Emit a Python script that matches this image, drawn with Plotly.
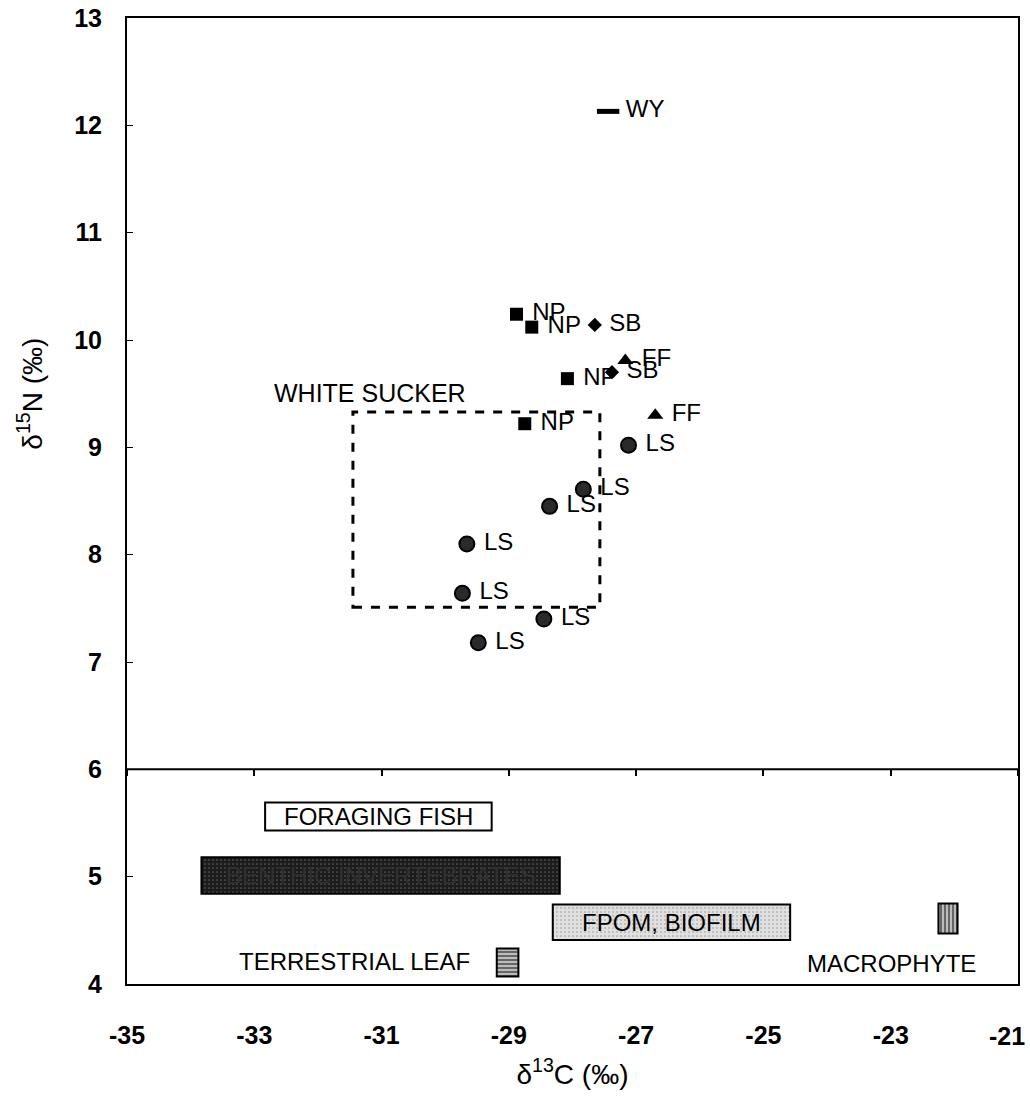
import plotly.graph_objects as go

# ---------------- data ----------------
wy_x = [-27.44]
wy_y = [12.13]
np_x = [-28.88, -28.64, -28.08, -28.75]
np_y = [10.24, 10.12, 9.64, 9.22]
sb_x = [-27.65, -27.38]
sb_y = [10.14, 9.70]
ff_x = [-27.17, -26.70]
ff_y = [9.81, 9.30]
ls_x = [-27.12, -27.83, -28.36, -29.66, -29.73, -28.45, -29.48]
ls_y = [9.02, 8.61, 8.45, 8.10, 7.64, 7.40, 7.18]

# white sucker range (dashed box)
ws_x = [-31.45, -27.57]
ws_y = [7.51, 9.33]
ws_label = "WHITE SUCKER"
ws_label_xy = (-31.18, 9.51)

# food sources (bars): name, x-min, x-max, y-center, y-height
src_names = ["FORAGING FISH", "BENTHIC INVERTEBRATES", "FPOM, BIOFILM",
             "TERRESTRIAL LEAF", "MACROPHYTE"]
src_xmin = [-32.83, -33.83, -28.31, -29.19, -22.25]
src_xmax = [-29.27, -28.20, -24.58, -28.85, -21.95]
src_yc = [5.56, 5.01, 4.575, 4.20, 4.61]
src_h = [0.26, 0.34, 0.33, 0.26, 0.28]
leaf_label_xy = (-31.43, 4.21)
macro_label_xy = (-22.98, 4.19)

x_ticks = [-35, -33, -31, -29, -27, -25, -23, -21]
y_ticks = [4, 5, 6, 7, 8, 9, 10, 11, 12, 13]

FONT = "Arial, Liberation Sans, sans-serif"

fig = go.Figure()

# ---------- food source bars ----------
bar_styles = [
    dict(color="white", pattern=None),
    dict(color="#1c1c1c", pattern=dict(shape=".", fgcolor="#9a9a9a", bgcolor="#1c1c1c", size=4, solidity=0.15)),
    dict(color="#d8d8d8", pattern=dict(shape=".", fgcolor="#8a8a8a", bgcolor="#e0e0e0", size=4, solidity=0.2)),
    dict(color="#444", pattern=dict(shape="-", fgcolor="#111", bgcolor="#bbbbbb", size=4, solidity=0.5)),
    dict(color="#444", pattern=dict(shape="|", fgcolor="#111", bgcolor="#bbbbbb", size=4, solidity=0.5)),
]
for i, name in enumerate(src_names):
    st = bar_styles[i]
    marker = dict(color=st["color"], line=dict(color="black", width=2))
    if st["pattern"] is not None:
        marker["pattern"] = st["pattern"]
    fig.add_trace(go.Bar(
        x=[src_xmax[i] - src_xmin[i]], base=[src_xmin[i]], y=[src_yc[i]],
        width=[src_h[i]], orientation="h", marker=marker,
        showlegend=False, hoverinfo="skip"))

src_font = dict(family=FONT, size=24, color="black")
inside_colors = ["black", "#303030", "black"]
for i in range(3):
    fig.add_annotation(x=(src_xmin[i] + src_xmax[i]) / 2, y=src_yc[i],
                       text=src_names[i], showarrow=False,
                       font=dict(family=FONT, size=24, color=inside_colors[i]))
fig.add_annotation(x=leaf_label_xy[0], y=leaf_label_xy[1], text=src_names[3],
                   showarrow=False, font=src_font)
fig.add_annotation(x=macro_label_xy[0], y=macro_label_xy[1], text=src_names[4],
                   showarrow=False, font=src_font)

# ---------- fish points ----------
lab_font = dict(family=FONT, size=24, color="black")

def pts(xs, ys, lab, symbol, size, color="black", lw=0):
    fig.add_trace(go.Scatter(
        x=xs, y=ys, mode="markers+text", text=[" " + lab] * len(xs),
        textposition="middle right", textfont=lab_font,
        marker=dict(symbol=symbol, size=size, color=color,
                    line=dict(color="black", width=lw)),
        showlegend=False, hoverinfo="skip", cliponaxis=False))

pts(wy_x, wy_y, "WY", "line-ew", 16, lw=5)
pts(np_x, np_y, "NP", "square", 13)
pts(sb_x, sb_y, "SB", "diamond", 11)
pts(ff_x, ff_y, "FF", "triangle-up", 14)
pts(ls_x, ls_y, "LS", "circle", 15, color="#2a2a2a", lw=2)

# ---------- white sucker dashed box ----------
fig.add_shape(type="rect", x0=ws_x[0], x1=ws_x[1], y0=ws_y[0], y1=ws_y[1],
              line=dict(color="black", width=3, dash="dash"), layer="below")
fig.add_annotation(x=ws_label_xy[0], y=ws_label_xy[1], text=ws_label,
                   showarrow=False, font=dict(family=FONT, size=25, color="black"))

# separator between consumers and food sources (y = 6)
fig.add_shape(type="line", xref="paper", x0=0, x1=1, y0=6, y1=6,
              line=dict(color="black", width=2))

# invisible trace to carry the secondary tick axis at y = 6
fig.add_trace(go.Scatter(x=[x_ticks[0]], y=[6], xaxis="x2", mode="markers",
                         marker=dict(opacity=0), showlegend=False, hoverinfo="skip"))

# y-axis title centred on upper panel
fig.add_annotation(xref="paper", x=0, xshift=-97, xanchor="center", yanchor="middle",
                   y=9.5, yref="y",
                   text="δ<sup>15</sup>N (‰)", textangle=-90, showarrow=False,
                   font=dict(family=FONT, size=28, color="black"))

# tick labels: the last one is drawn as an annotation right-aligned to the page edge
tick_font = dict(family=FONT, size=25, color="black", weight="bold")
x_ticktext = [str(v) for v in x_ticks]
last_label = x_ticktext[-1]
x_ticktext[-1] = ""
fig.add_annotation(x=x_ticks[-1], xref="x", y=0, yref="paper", xanchor="right",
                   yanchor="top", xshift=9, yshift=-36, text=last_label,
                   showarrow=False, font=tick_font)

fig.update_layout(
    width=1030, height=1105,
    margin=dict(l=127, r=12, t=18, b=121, autoexpand=False),
    plot_bgcolor="white", paper_bgcolor="white",
    barmode="overlay",
    xaxis=dict(range=[-35, -21], tickvals=x_ticks, ticktext=x_ticktext,
               showgrid=False, zeroline=False, showline=True, linecolor="black",
               linewidth=2, mirror=True, ticks="", ticklabelstandoff=28,
               ticklabeloverflow="allow", automargin=False,
               tickfont=tick_font,
               title=dict(text="δ<sup>13</sup>C (‰)", standoff=16,
                          font=dict(family=FONT, size=28, color="black"))),
    xaxis2=dict(range=[-35, -21], overlaying="x", anchor="free", position=(6 - 4) / 9,
                tickvals=x_ticks, ticks="outside", ticklen=6, tickwidth=1.5,
                tickcolor="black", showticklabels=False, showgrid=False,
                zeroline=False, showline=False, automargin=False),
    yaxis=dict(range=[4, 13], tickvals=y_ticks, showgrid=False, zeroline=False,
               showline=True, linecolor="black", linewidth=2, mirror=True,
               ticks="inside", ticklen=6, tickcolor="black", ticklabelstandoff=18,
               automargin=False, tickfont=tick_font),
    showlegend=False,
)

fig.write_html("out.html")
